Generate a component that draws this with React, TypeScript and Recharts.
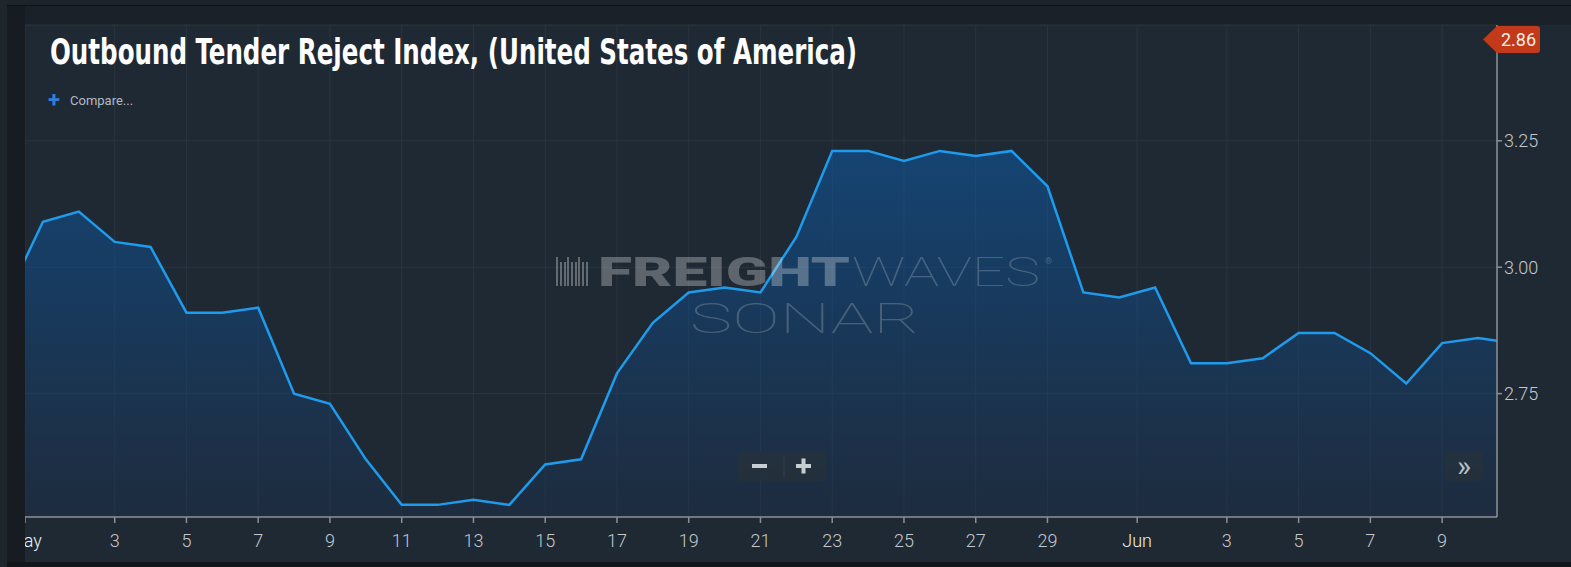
import { AreaChart, Area, XAxis, YAxis, CartesianGrid } from "recharts";

// daily values, Apr 30 .. Jun 11
const dates = [
  "Apr 30", "May 1", "May 2", "May 3", "May 4", "May 5", "May 6", "May 7", "May 8", "May 9",
  "May 10", "May 11", "May 12", "May 13", "May 14", "May 15", "May 16", "May 17", "May 18", "May 19",
  "May 20", "May 21", "May 22", "May 23", "May 24", "May 25", "May 26", "May 27", "May 28", "May 29",
  "May 30", "May 31", "Jun 1", "Jun 2", "Jun 3", "Jun 4", "Jun 5", "Jun 6", "Jun 7", "Jun 8",
  "Jun 9", "Jun 10", "Jun 11",
];
const rejectIndex = [
  2.94, 3.09, 3.11, 3.05, 3.04, 2.91, 2.91, 2.92, 2.75, 2.73,
  2.62, 2.53, 2.53, 2.54, 2.53, 2.61, 2.62, 2.79, 2.89, 2.95,
  2.96, 2.95, 3.06, 3.23, 3.23, 3.21, 3.23, 3.22, 3.23, 3.16,
  2.95, 2.94, 2.96, 2.81, 2.81, 2.82, 2.87, 2.87, 2.83, 2.77,
  2.85, 2.86, 2.85,
];
const xTicks = [0.5, 3, 5, 7, 9, 11, 13, 15, 17, 19, 21, 23, 25, 27, 29, 31.5, 34, 36, 38, 40];
const xTickLabels = ["May", "3", "5", "7", "9", "11", "13", "15", "17", "19", "21", "23", "25", "27", "29", "Jun", "3", "5", "7", "9"];
const yTicks = [2.75, 3.0, 3.25];
const lastValue = "2.86";

const data = dates.map((d, i) => ({ x: i, date: d, value: rejectIndex[i] }));

const AXIS = "#8b9096";
const TICK = "#c3c8cd";

const XTick = ({ x, y, payload }: any) => {
  const idx = xTicks.indexOf(payload.value);
  const label = xTickLabels[idx] ?? "";
  const isMonth = label === "May" || label === "Jun";
  return (
    <text
      x={x}
      y={y + 22}
      textAnchor="middle"
      fill={isMonth ? "#eef1f3" : TICK}
      fontSize={18}
      fontFamily="Roboto, sans-serif"
      fontWeight={300}
    >
      {label}
    </text>
  );
};

const barcode = [0, 4, 8, 11, 15, 19, 22, 26, 30];

export default function App() {
  return (
    <div
      style={{
        position: "fixed",
        left: 0,
        top: 0,
        width: 1571,
        height: 567,
        background: "#1a2129",
        overflow: "hidden",
        fontFamily: "Roboto, sans-serif",
      }}
    >
      {/* page strips */}
      <div style={{ position: "absolute", left: 0, top: 0, width: 1571, height: 5, background: "#1d242b", borderBottom: "1px solid #0e1216" }} />
      <div style={{ position: "absolute", left: 25, top: 25, width: 1546, height: 537, background: "#1f2933" }} />
      <div style={{ position: "absolute", left: 0, top: 562, width: 1571, height: 5, background: "#11161b" }} />

      <div style={{ position: "absolute", left: 0, top: 0 }}>
        <AreaChart
          width={1571}
          height={567}
          data={data}
          margin={{ top: 25, right: 0, left: 25, bottom: 0 }}
        >
          <defs>
            <linearGradient id="fillTri" x1="0" y1="0" x2="0" y2="1">
              <stop offset="0%" stopColor="#0b60b4" stopOpacity={0.82} />
              <stop offset="40%" stopColor="#0f4f92" stopOpacity={0.75} />
              <stop offset="100%" stopColor="#1a3254" stopOpacity={0.6} />
            </linearGradient>
          </defs>
          <CartesianGrid stroke="#2a3541" strokeWidth={1} />
          <XAxis
            dataKey="x"
            type="number"
            domain={[0.5, 41.53]}
            allowDataOverflow
            ticks={xTicks}
            interval={0}
            height={50}
            stroke={AXIS}
            strokeWidth={1.5}
            tickSize={6}
            tick={<XTick />}
          />
          <YAxis
            orientation="right"
            type="number"
            domain={[2.506, 3.479]}
            allowDataOverflow
            ticks={yTicks}
            width={74}
            stroke={AXIS}
            strokeWidth={1.5}
            tickSize={5}
            tickMargin={2}
            tickFormatter={(v: number) => v.toFixed(2)}
            tick={{ fill: TICK, fontSize: 18, fontFamily: "Roboto, sans-serif", fontWeight: 300 }}
          />
          <Area
            type="linear"
            dataKey="value"
            stroke="#1e9bec"
            strokeWidth={2.5}
            fill="url(#fillTri)"
            isAnimationActive={false}
            dot={false}
            activeDot={false}
          />
        </AreaChart>
      </div>

      {/* left edge strips cover the clipped month label */}
      <div style={{ position: "absolute", left: 0, top: 0, width: 7, height: 567, background: "#1f262c" }} />
      <div style={{ position: "absolute", left: 7, top: 6, width: 18, height: 556, background: "#161c22" }} />

      <svg
        width={1571}
        height={567}
        style={{ position: "absolute", left: 0, top: 0, pointerEvents: "none" }}
      >
        <text
          x={50}
          y={64}
          fill="#ffffff"
          fontSize={36}
          fontWeight={700}
          fontFamily="'Liberation Sans Narrow', 'DejaVu Sans Condensed', Roboto, sans-serif"
          textLength={807}
          lengthAdjust="spacingAndGlyphs"
        >
          Outbound Tender Reject Index, (United States of America)
        </text>
        <text x={48} y={107} fill="#2f7fd6" fontSize={22} fontWeight={700} fontFamily="Roboto, sans-serif">+</text>
        <text x={70} y={105} fill="#b3bac1" fontSize={13} fontFamily="Roboto, sans-serif">Compare...</text>

        {/* watermark */}
        <g opacity={0.3} fill="#ffffff">
          {barcode.map((b, i) => (
            <rect key={i} x={556 + b} y={i % 3 === 0 ? 257 : 262} width={2} height={i % 3 === 0 ? 29 : 24} />
          ))}
        </g>
        <text x={598} y={286} fill="#ffffff" opacity={0.28} fontSize={41} fontWeight={900}
          fontFamily="Roboto, sans-serif" textLength={252} lengthAdjust="spacingAndGlyphs">FREIGHT</text>
        <text x={852} y={286} fill="#ffffff" opacity={0.2} fontSize={41} fontWeight={100}
          fontFamily="Roboto, sans-serif" textLength={188} lengthAdjust="spacingAndGlyphs">WAVES</text>
        <text x={1045} y={264} fill="#ffffff" opacity={0.2} fontSize={9} fontFamily="Roboto, sans-serif">®</text>
        <text x={690} y={333} fill="#ffffff" opacity={0.2} fontSize={42} fontWeight={100}
          fontFamily="Roboto, sans-serif" textLength={230} lengthAdjust="spacingAndGlyphs">SONAR</text>

        {/* zoom buttons */}
        <rect x={738} y={451} width={88} height={30} rx={3} fill="#25313c" opacity={0.9} />
        <line x1={784} y1={455} x2={784} y2={477} stroke="#34414d" strokeWidth={1} />
        <rect x={752} y={464} width={15} height={4} fill="#c8cdd2" />
        <rect x={796} y={464} width={15} height={4} fill="#c8cdd2" />
        <rect x={801.5} y={458.5} width={4} height={15} fill="#c8cdd2" />
        <rect x={1445} y={451} width={38} height={30} rx={3} fill="#25313c" opacity={0.9} />
        <text x={1464} y={476} textAnchor="middle" fill="#b9c0c7" fontSize={30} fontWeight={400} fontFamily="Roboto, sans-serif">»</text>

        {/* last value badge */}
        <path d="M1483,39.5 L1497,26 L1537,26 Q1540,26 1540,29 L1540,50 Q1540,53 1537,53 L1497,53 Z" fill="#c23a1a" />
        <text x={1518.5} y={46} textAnchor="middle" fill="#f6ece6" fontSize={18} fontFamily="Roboto, sans-serif">{lastValue}</text>
      </svg>
    </div>
  );
}
